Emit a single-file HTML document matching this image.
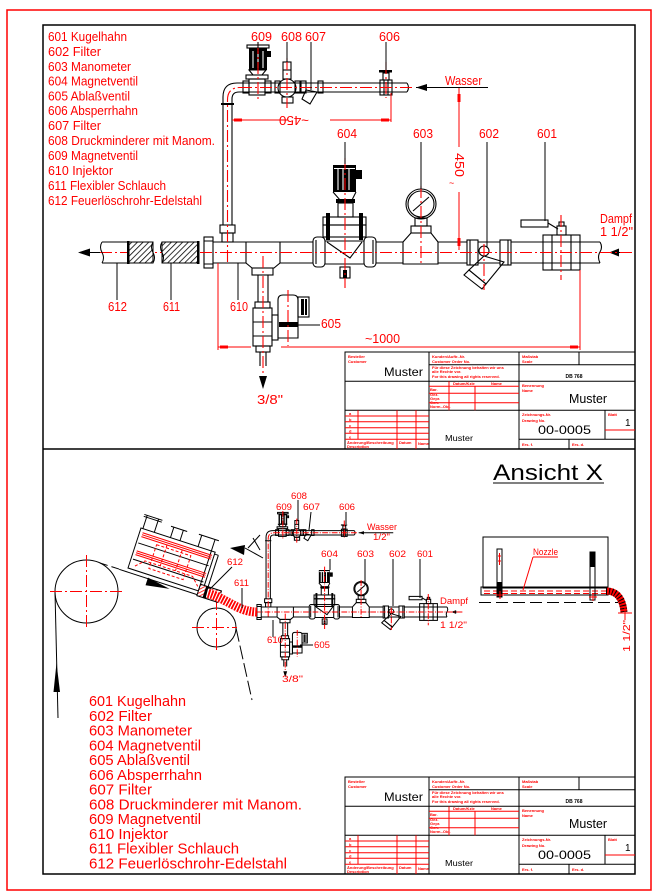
<!DOCTYPE html>
<html><head><meta charset="utf-8">
<style>
html,body{margin:0;padding:0;background:#fff}
svg{display:block}
text{font-family:"Liberation Sans",sans-serif}
.k{stroke:#000;fill:none}
.kf{fill:#000;stroke:none}
.r{stroke:#f00;fill:none;stroke-width:1}
.rf{fill:#f00;stroke:none}
.cl{stroke:#f00;fill:none;stroke-dasharray:12 3 2 3}
.lt{fill:#f00;font-size:12.5px}
.lb{fill:#f00;font-size:15px}
.lab{fill:#f00;font-size:12.5px}
.lab2{fill:#f00;font-size:9.5px}
.tr{fill:#f00;font-size:4px;font-weight:bold}
</style></head><body>
<svg width="654" height="896" viewBox="0 0 654 896" xmlns="http://www.w3.org/2000/svg">
<defs>
<pattern id="hb" width="4" height="4" patternUnits="userSpaceOnUse" patternTransform="rotate(45)">
<rect width="4" height="4" fill="#fff"/>
<line x1="0" y1="0" x2="0" y2="4" stroke="#000" stroke-width="1.6"/>
</pattern>
<pattern id="hr" width="3" height="3" patternUnits="userSpaceOnUse" patternTransform="rotate(45)">
<rect width="3" height="3" fill="#fff"/>
<line x1="0" y1="0" x2="0" y2="3" stroke="#f00" stroke-width="1.6"/>
</pattern>

<g id="asm">
<g class="k">
<path d="M223 225V97Q223 83 237 83H407"/>
<path d="M232 225V99Q232 92 239 92H407"/>
<path d="M407 83Q410 87.5 407 92"/>
<rect x="220" y="225" width="15" height="8"/>
<rect x="222" y="233" width="11" height="9"/>
<rect x="204" y="237" width="9" height="31"/>
<path d="M204 241H213M204 264H213"/>
<path d="M213 242H246M213 263H246"/>
<path d="M246 242H280V263L274 268H252L246 263Z"/>
<rect x="252" y="268" width="21" height="7"/>
<path d="M280 242H313M280 263H313"/>
<rect x="313" y="237" width="12" height="30" rx="4"/>
<rect x="364" y="237" width="12" height="30" rx="4"/>
<path d="M316 240V264M373 240V264"/>
<path d="M325 241H364M325 264H364"/>
<path d="M327 242L350 258L362 242"/>
<path d="M333 192L340 200H352L356 192"/>
<rect x="338" y="203" width="15" height="14"/>
<rect x="323" y="217" width="43" height="8"/>
<rect x="323" y="225" width="43" height="12"/>
<rect x="340" y="267" width="10" height="11"/>
<path d="M376 242H403M376 263H403"/>
<path d="M403 264V242L411 233H431L438 242V264Z"/>
<rect x="411" y="226" width="20" height="7"/>
<rect x="415" y="218" width="12" height="8"/>
<circle cx="421" cy="204" r="15"/>
<circle cx="421" cy="204" r="13"/>
<path d="M413 211L429 197"/>
<path d="M438 242H467M438 263H467"/>
<rect x="467" y="240" width="11" height="25"/>
<rect x="500" y="240" width="11" height="25"/>
<path d="M470 240V265M508 240V265"/>
<path d="M478 242H500M478 263H500"/>
<circle cx="484" cy="251" r="5"/>
<polygon points="484,256 504,262 486,284 469,270"/>
<polygon points="469,270 486,284 482,289 464,275"/>
<path d="M511 242H543M511 263H543"/>
<rect x="543" y="235" width="37" height="35"/>
<path d="M552 235V270M571 235V270M543 242H580M543 263H580"/>
<rect x="557" y="226" width="9" height="9"/>
<rect x="559" y="222" width="5" height="4"/>
<rect x="521" y="220" width="27" height="7"/>
<path d="M548 223L558 229"/>
<path d="M580 242H600M580 263H600"/>
<path d="M600 242Q603 247 600 252Q597 257 600 263"/>
<path d="M609 252.5H630"/>
<rect x="243" y="81" width="6" height="12"/>
<rect x="265" y="81" width="6" height="12"/>
<rect x="249" y="79" width="16" height="16"/>
<rect x="246" y="75" width="22" height="4"/>
<path d="M249 70L253 75H262L266 70Z"/>
<rect x="247" y="45" width="22" height="3"/>
<rect x="275" y="81" width="5" height="12"/>
<rect x="295" y="81" width="5" height="12"/>
<circle cx="287" cy="88" r="9"/>
<rect x="283" y="62" width="8" height="17"/>
<path d="M283 70H291"/>
<rect x="282" y="97" width="11" height="6"/>
<rect x="301" y="81" width="5" height="12"/>
<rect x="318" y="81" width="5" height="12"/>
<polygon points="306,90 317,92 310,104 302,99"/>
<rect x="380" y="80" width="12" height="15"/>
<path d="M384 80V95M388 80V95"/>
<rect x="383" y="73" width="6" height="7"/>
<path d="M416 87.5H488"/>
<path d="M258 275V302M268 275V302"/>
<rect x="255" y="302" width="15" height="6"/>
<rect x="253" y="308" width="19" height="38"/>
<path d="M253 322H272M253 336H272"/>
<rect x="272" y="315" width="6" height="25"/>
<path d="M278 338V300Q278 295 283 295H293Q298 295 298 300V338Z"/>
<rect x="298" y="297" width="11" height="20"/>
<rect x="256" y="346" width="14" height="6"/>
<path d="M260 352V366M266 352V366"/>
</g>
<g class="kf">
<rect x="333" y="165" width="23" height="27"/>
<rect x="356" y="170" width="6" height="9"/>
<rect x="336" y="199" width="19" height="4"/>
<rect x="326" y="213" width="4" height="27"/>
<rect x="359" y="213" width="4" height="27"/>
<rect x="343" y="270" width="4" height="8"/>
<rect x="249" y="48" width="18" height="22"/>
<rect x="267" y="51" width="4" height="6"/>
<rect x="379" y="70" width="13" height="2.5"/>
<rect x="221" y="103" width="13" height="2"/>
<rect x="279" y="322" width="19" height="5"/>
<rect x="301" y="299" width="3" height="16"/>
<rect x="305" y="299" width="2" height="16"/>
<polygon points="609,252.5 619,248.5 619,256.5"/>
<polygon points="416,87.5 427,84 427,91"/>
<polygon points="263,389 259,376 267,376"/>
</g>
<path d="M338 169V190M343 169V190M349 169V190M334 168.5H355" stroke="#fff" fill="none"/>
<path d="M253 51V68M258 51V68M263 51V68" stroke="#fff" fill="none"/>
<g class="cl">
<path d="M200 252.5H632"/>
<path d="M240 87.5H412"/>
<path d="M227.5 262V100Q227.5 87.5 240 87.5"/>
<path d="M345 158V288"/>
<path d="M421 186V264"/>
<path d="M263 256V376"/>
<path d="M288 290V346"/>
<path d="M258 42V102"/>
<path d="M287 58V108"/>
<path d="M386 62V98"/>
<path d="M561 215V280"/>
<path d="M484 244V290"/>
</g>
</g>

<g id="tb">
<g stroke="#000" fill="none" stroke-width="1">
<rect x="0" y="0" width="290" height="97"/>
<path d="M84 0V97M174 0V97M0 29.3H290M0 58.3H290M84 12.7H290M234 0V12.7M174 87.3H290M260 58.3V87.3M224 87.3V97"/>
</g>
<g stroke="#f00" fill="none" stroke-width="1">
<path d="M84 34.3H174M84 41.3H174M84 50.7H174M104 29.3V58.3M130 34.3V58.3"/>
<path d="M0 64H84M0 69.7H84M0 75.7H84M0 81.3H84M0 87.3H84M13 58.3V87.3M52 58.3V97M71 58.3V97"/>
<path d="M260 78H290"/>
</g>
<text x="3" y="6" class="tr">Besteller</text>
<text x="3" y="11" class="tr">Customer</text>
<text x="39" y="24" font-size="12" textLength="39" lengthAdjust="spacingAndGlyphs">Muster</text>
<text x="87" y="6" class="tr">Kunden/Auftr.-Nr.</text>
<text x="87" y="11" class="tr">Customer Order No.</text>
<text x="87" y="17" class="tr">Für diese Zeichnung behalten wir uns</text>
<text x="87" y="21" class="tr">alle Rechte vor.</text>
<text x="87" y="26" class="tr">For this drawing all rights reserved.</text>
<text x="108" y="33" class="tr">Datum/Kzle</text>
<text x="146" y="33" class="tr">Name</text>
<text x="85" y="39" class="tr">Bar.</text>
<text x="85" y="44" class="tr">Gez.</text>
<text x="85" y="48" class="tr">Gepr.</text>
<text x="85" y="52" class="tr">Gen.</text>
<text x="85" y="56" class="tr">Norm.-Obj.</text>
<text x="177" y="6" class="tr">Maßstab</text>
<text x="177" y="11" class="tr">Scale</text>
<text x="229" y="26" font-size="5" font-weight="bold" text-anchor="middle">DB 768</text>
<text x="177" y="35" class="tr">Benennung</text>
<text x="177" y="40" class="tr">Name</text>
<text x="224" y="51" font-size="12.5" textLength="38" lengthAdjust="spacingAndGlyphs">Muster</text>
<text x="177" y="64" class="tr">Zeichnungs-Nr.</text>
<text x="177" y="70" class="tr">Drawing No.</text>
<text x="263" y="64" class="tr">Blatt</text>
<text x="193" y="82" font-size="12" textLength="53" lengthAdjust="spacingAndGlyphs">00-0005</text>
<text x="280" y="74" font-size="10">1</text>
<text x="100" y="89" font-size="8.5" textLength="28" lengthAdjust="spacingAndGlyphs">Muster</text>
<text x="177" y="94" class="tr">Ers. f.</text>
<text x="227" y="94" class="tr">Ers. d.</text>
<text x="2" y="92" class="tr">Änderung/Beschreibung</text>
<text x="2" y="96" class="tr">Description</text>
<text x="54" y="92" class="tr">Datum</text>
<text x="73" y="93" class="tr">Name</text>
<text x="4" y="63" class="tr" font-size="5">a</text>
<text x="4" y="69" class="tr" font-size="5">b</text>
<text x="4" y="75" class="tr" font-size="5">c</text>
<text x="4" y="80.5" class="tr" font-size="5">d</text>
<text x="4" y="86.5" class="tr" font-size="5">e</text>
</g>
</defs>

<rect width="654" height="896" fill="#fff"/>
<!-- frames -->
<rect x="7" y="10" width="644" height="880" fill="none" stroke="#f00" stroke-width="1.5"/>
<rect x="43" y="25" width="592" height="849" fill="none" stroke="#000" stroke-width="1.5"/>
<line x1="43" y1="449" x2="635" y2="449" stroke="#000" stroke-width="1.5"/>

<!-- top list -->
<g class="lt">
<text x="48" y="41" textLength="79" lengthAdjust="spacingAndGlyphs">601 Kugelhahn</text>
<text x="48" y="56" textLength="53" lengthAdjust="spacingAndGlyphs">602 Filter</text>
<text x="48" y="71" textLength="83" lengthAdjust="spacingAndGlyphs">603 Manometer</text>
<text x="48" y="85.5" textLength="90" lengthAdjust="spacingAndGlyphs">604 Magnetventil</text>
<text x="48" y="100.5" textLength="82" lengthAdjust="spacingAndGlyphs">605 Ablaßventil</text>
<text x="48" y="115" textLength="90" lengthAdjust="spacingAndGlyphs">606 Absperrhahn</text>
<text x="48" y="130" textLength="53" lengthAdjust="spacingAndGlyphs">607 Filter</text>
<text x="48" y="145" textLength="167" lengthAdjust="spacingAndGlyphs">608 Druckminderer mit Manom.</text>
<text x="48" y="160" textLength="90" lengthAdjust="spacingAndGlyphs">609 Magnetventil</text>
<text x="48" y="175" textLength="65" lengthAdjust="spacingAndGlyphs">610 Injektor</text>
<text x="48" y="190" textLength="118" lengthAdjust="spacingAndGlyphs">611 Flexibler Schlauch</text>
<text x="48" y="205" textLength="154" lengthAdjust="spacingAndGlyphs">612 Feuerlöschrohr-Edelstahl</text>
</g>

<!-- top assembly -->
<use href="#asm" stroke-width="1.1"/>
<g class="cl" stroke-width="1"><path d="M80 252.5H204"/></g>
<g stroke-width="1">
<path class="k" d="M102 242H128M102 263H128"/>
<path class="k" d="M102 242Q99 247 102 252.5Q105 258 102 263"/>
<rect x="128" y="242" width="25" height="21" fill="url(#hb)" stroke="#000"/>
<rect x="127" y="241" width="2.5" height="23" fill="#000"/>
<path class="k" d="M153 242Q150 247 153 252.5Q156 258 153 263"/>
<rect x="162" y="242" width="36" height="21" fill="url(#hb)" stroke="#000"/>
<path class="k" d="M162 242Q159 247 162 252.5Q165 258 162 263"/>
<rect x="197" y="241" width="2.5" height="23" fill="#000"/>
<polygon class="kf" points="78,252.5 90,248.5 90,256.5"/>
<path class="k" d="M90 252.5H100"/>
<path class="k" d="M287 42V62M311 42V90M386 42V70M258 42V48M345 142V164M421 142V189M487 142V247M545 142V221M117 263V300M171 263V300M238 263V300M298 325H320"/>
</g>
<!-- top labels -->
<g class="lab">
<text x="251" y="41" textLength="21" lengthAdjust="spacingAndGlyphs">609</text>
<text x="281" y="41" textLength="21" lengthAdjust="spacingAndGlyphs">608</text>
<text x="305" y="41" textLength="21" lengthAdjust="spacingAndGlyphs">607</text>
<text x="379" y="41" textLength="21" lengthAdjust="spacingAndGlyphs">606</text>
<text x="445" y="85" textLength="37" lengthAdjust="spacingAndGlyphs">Wasser</text>
<text x="337" y="138" textLength="20" lengthAdjust="spacingAndGlyphs">604</text>
<text x="413" y="138" textLength="20" lengthAdjust="spacingAndGlyphs">603</text>
<text x="479" y="138" textLength="20" lengthAdjust="spacingAndGlyphs">602</text>
<text x="537" y="138" textLength="20" lengthAdjust="spacingAndGlyphs">601</text>
<text x="600" y="223" textLength="32" lengthAdjust="spacingAndGlyphs">Dampf</text>
<text x="600" y="236" textLength="33" lengthAdjust="spacingAndGlyphs">1 1/2"</text>
<text x="108" y="311" textLength="19" lengthAdjust="spacingAndGlyphs">612</text>
<text x="163" y="311" textLength="17" lengthAdjust="spacingAndGlyphs">611</text>
<text x="230" y="311" textLength="18" lengthAdjust="spacingAndGlyphs">610</text>
<text x="321" y="328" textLength="20" lengthAdjust="spacingAndGlyphs">605</text>
<text x="257" y="404" textLength="26" lengthAdjust="spacingAndGlyphs">3/8"</text>
<text x="365" y="343" textLength="35" lengthAdjust="spacingAndGlyphs">~1000</text>
<text transform="translate(309,116) rotate(180)" textLength="30" lengthAdjust="spacingAndGlyphs">~450</text>
<text transform="translate(455,153) rotate(90)" textLength="24" lengthAdjust="spacingAndGlyphs">450</text>
<text x="449" y="186" font-size="9">~</text>
</g>
<!-- top dimensions -->
<g class="r">
<path d="M232 120H287M330 120H391M391 93V122"/>
<path d="M459 88V147M459 192V250"/>
<path d="M218 263V350M580 270V350M218 347H251M281 347H580"/>
</g>
<g class="rf">
<rect x="234" y="118.5" width="8" height="3"/>
<rect x="381" y="118.5" width="8" height="3"/>
<rect x="457.5" y="94" width="3" height="8"/>
<rect x="457.5" y="238" width="3" height="8"/>
<rect x="220" y="345.5" width="8" height="3"/>
<rect x="570" y="345.5" width="8" height="3"/>
</g>

<use href="#tb" x="345" y="352"/>

<!-- bottom section -->
<use href="#asm" transform="translate(159,490.8) scale(0.48)" stroke-width="2.1"/>

<!-- circles -->
<g stroke-width="1">
<circle cx="86.5" cy="591.5" r="31.5" class="k"/>
<path class="cl" d="M50 591.5H123M86.5 555V628"/>
<circle cx="216.5" cy="627.5" r="19.5" class="k"/>
<path class="cl" d="M192 627.5H237M216.5 598V652"/>
<path class="k" d="M55 592L58 718"/>
<polygon class="kf" points="56.5,663 53.5,692 60,692"/>
<path class="k" stroke-dasharray="8 4" d="M100 563L122 570"/>
<path class="k" stroke-dasharray="14 4" d="M236 628L252 700"/>
<!-- machine -->
<g transform="translate(128,568) rotate(18)">
<rect class="k" x="0" y="-42" width="78" height="42"/>
<path class="k" d="M-8 4H80M74 -42V0M82 -40V4M78 -40H82"/>
<path class="k" d="M2 -27H76M2 -10H76"/>
<path class="r" d="M3 -38H76M3 -36H76M3 -34H76M3 -19H76M3 -17H76M3 -15H76"/>
<path class="r" stroke-dasharray="3 2" d="M20 -31H56V-6H20ZM6 -4L14 -12H64L72 -4M30 -34V-12M46 -34V-12"/>
<path class="k" d="M2 -42V-56M14 -42V-56M-1 -56H18M-1 -54H18M31 -42V-53M41 -42V-53M28 -53H45M60 -42V-54M74 -42V-54M57 -54H78"/>
<polygon class="kf" points="22,3 46,7 22,11"/>
<rect x="74" y="-7" width="22" height="12" fill="url(#hr)" stroke="#000"/>
<rect x="80" y="-7" width="4" height="12" fill="#000"/>
</g>
<!-- hose 611 -->
<path d="M207 593C226 598 238 612 257 612" stroke="#f00" stroke-width="9" fill="none"/>
<path d="M207 593C226 598 238 612 257 612" stroke="#fff" stroke-width="9" stroke-dasharray="1.2 1.8" fill="none"/>
<!-- view marker -->
<polygon class="kf" points="230,548 245,545 244,555"/>
<path class="k" d="M245 548L263 558M248 548L260 535M253 538L260 550"/>
<!-- bottom leaders -->
<path class="k" d="M298 500V521M284 512V522M311 512L309 530M346 512V524M330 559V570M365 559V585M393 559V606M420 559V598M273 620V637M300 645H313M232 567L210 589M242 588V608"/>
</g>
<g class="lab2">
<text x="291" y="499" textLength="16" lengthAdjust="spacingAndGlyphs">608</text>
<text x="276" y="510" textLength="16" lengthAdjust="spacingAndGlyphs">609</text>
<text x="303" y="510" textLength="17" lengthAdjust="spacingAndGlyphs">607</text>
<text x="339" y="510" textLength="16" lengthAdjust="spacingAndGlyphs">606</text>
<text x="367" y="530" textLength="30" lengthAdjust="spacingAndGlyphs">Wasser</text>
<text x="373" y="540" textLength="17" lengthAdjust="spacingAndGlyphs">1/2"</text>
<text x="321" y="557" textLength="17" lengthAdjust="spacingAndGlyphs">604</text>
<text x="357" y="557" textLength="17" lengthAdjust="spacingAndGlyphs">603</text>
<text x="389" y="557" textLength="17" lengthAdjust="spacingAndGlyphs">602</text>
<text x="417" y="557" textLength="16" lengthAdjust="spacingAndGlyphs">601</text>
<text x="440" y="604" textLength="28" lengthAdjust="spacingAndGlyphs">Dampf</text>
<text x="440" y="628" textLength="27" lengthAdjust="spacingAndGlyphs">1 1/2"</text>
<text x="267" y="643" textLength="16" lengthAdjust="spacingAndGlyphs">610</text>
<text x="314" y="648" textLength="16" lengthAdjust="spacingAndGlyphs">605</text>
<text x="282" y="682" textLength="21" lengthAdjust="spacingAndGlyphs">3/8"</text>
<text x="227" y="565" textLength="16" lengthAdjust="spacingAndGlyphs">612</text>
<text x="234" y="586" textLength="15" lengthAdjust="spacingAndGlyphs">611</text>
</g>

<!-- Ansicht X -->
<g stroke-width="1">
<text x="493" y="480" font-size="22" textLength="110" lengthAdjust="spacingAndGlyphs" fill="#000">Ansicht X</text>
<path class="k" d="M493 483H604"/>
<rect class="k" x="483" y="537" width="125" height="51"/>
<rect class="k" x="481" y="587" width="127" height="8"/>
<path class="r" stroke-dasharray="6 3" d="M484 591H606M484 593.5H606"/>
<path class="k" stroke-dasharray="12 5" d="M479 602.5H618"/>
<rect class="k" x="497" y="549" width="5" height="48"/>
<rect class="kf" x="497.5" y="582" width="4" height="15"/>
<path class="r" d="M499.5 553V565M498 556H501M498 561H501"/>
<rect class="k" x="590" y="552" width="5" height="48"/>
<rect class="kf" x="590" y="552" width="5" height="15"/>
<path class="r" d="M496 595H504M500 591V599M589 597H597M593 593V601"/>
<path class="r" d="M533 557H558M533 557L523 590"/>
<text x="533" y="555" font-size="9" fill="#f00" textLength="25" lengthAdjust="spacingAndGlyphs">Nozzle</text>
<path d="M606 591Q622 591 624 612" stroke="#f00" stroke-width="7" fill="none"/>
<path d="M606 591Q622 591 624 612" stroke="#000" stroke-width="7" stroke-dasharray="1 2" fill="none"/>
<path class="r" d="M618 613H632M625 606V620"/>
<text transform="translate(630,652) rotate(-90)" font-size="10" fill="#f00" textLength="32" lengthAdjust="spacingAndGlyphs">1 1/2"</text>
</g>

<!-- bottom list -->
<g class="lb">
<text x="89" y="706" textLength="97" lengthAdjust="spacingAndGlyphs">601 Kugelhahn</text>
<text x="89" y="720.8" textLength="63" lengthAdjust="spacingAndGlyphs">602 Filter</text>
<text x="89" y="735.5" textLength="103" lengthAdjust="spacingAndGlyphs">603 Manometer</text>
<text x="89" y="750.3" textLength="112" lengthAdjust="spacingAndGlyphs">604 Magnetventil</text>
<text x="89" y="765" textLength="101" lengthAdjust="spacingAndGlyphs">605 Ablaßventil</text>
<text x="89" y="779.8" textLength="113" lengthAdjust="spacingAndGlyphs">606 Absperrhahn</text>
<text x="89" y="794.6" textLength="63" lengthAdjust="spacingAndGlyphs">607 Filter</text>
<text x="89" y="809.3" textLength="213" lengthAdjust="spacingAndGlyphs">608 Druckminderer mit Manom.</text>
<text x="89" y="824.1" textLength="112" lengthAdjust="spacingAndGlyphs">609 Magnetventil</text>
<text x="89" y="838.8" textLength="79" lengthAdjust="spacingAndGlyphs">610 Injektor</text>
<text x="89" y="853.6" textLength="150" lengthAdjust="spacingAndGlyphs">611 Flexibler Schlauch</text>
<text x="89" y="868.3" textLength="198" lengthAdjust="spacingAndGlyphs">612 Feuerlöschrohr-Edelstahl</text>
</g>

<use href="#tb" x="345" y="777"/>
</svg>
</body></html>
